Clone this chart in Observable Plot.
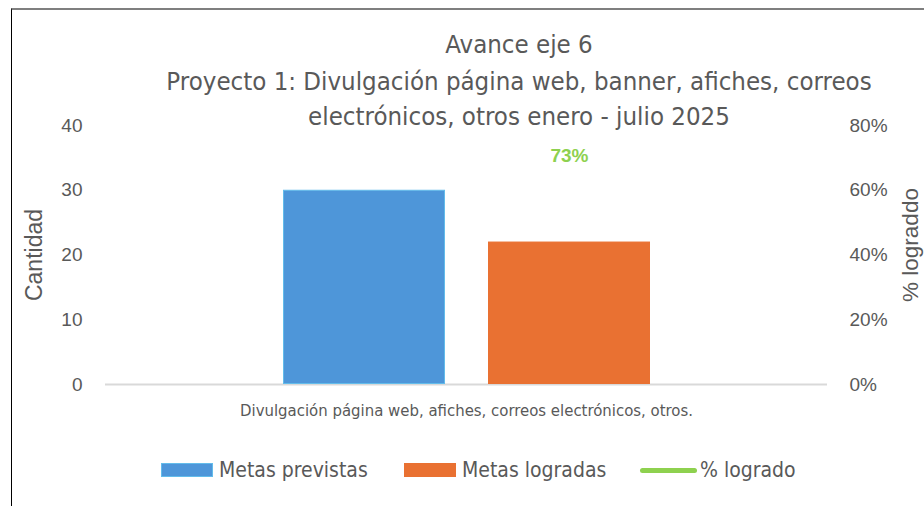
<!DOCTYPE html>
<html>
<head>
<meta charset="utf-8">
<script src="https://cdn.jsdelivr.net/npm/d3@7"></script>
<script src="https://cdn.jsdelivr.net/npm/@observablehq/plot@0.6"></script>
<style>
  body { margin: 0; background: #fff; }
  #wrap { position: relative; width: 924px; height: 506px; overflow: hidden; font-family: "Liberation Sans Narrow", "DejaVu Sans Condensed", "Liberation Sans", sans-serif; color: #595959; }
  #border { position: absolute; left: 11px; top: 8px; right: -5px; bottom: -5px; border-top: 2px solid #7f7f7f; border-left: 1px solid #000; }
  .tl { position: absolute; white-space: nowrap; transform: translate(-50%, -50%); font-size: 25.6px; }
  .lg { position: absolute; top: 470px; transform: translateY(-50%); display: flex; align-items: center; font-size: 21px; white-space: nowrap; }
  .sw { width: 52px; height: 14px; margin-right: 6px; box-sizing: border-box; }
  .ln { width: 57px; height: 5px; border-radius: 3px; margin-right: 3px; }
  svg { position: absolute; left: 0; top: 0; }
</style>
</head>
<body>
<div id="wrap">
  <div id="border"></div>
  <div id="chart"></div>
  <div id="titles"></div>
  <div id="legend"></div>
</div>
<script>
const titulo = ["Avance eje 6",
  "Proyecto 1: Divulgación página web, banner, afiches, correos",
  "electrónicos, otros enero - julio 2025"];
const categoria = ["Divulgación página web, afiches, correos electrónicos, otros."];
const series = ["Metas previstas", "Metas logradas"];
const valores = [30, 22];
const porcentaje = [0.73];
const serieLinea = "% logrado";
const ticksIzq = [0, 10, 20, 30, 40];
const ticksDer = ["0%", "20%", "40%", "60%", "80%"];
const colores = ["#4E96D9", "#E97132"];
const bordes = ["#63BCEB", "#E97132"];
const verde = "#8ED14F";
const ejeIzq = "Cantidad";
const ejeDer = "% lograddo";

const barras = series.map((s, i) => ({serie: s, valor: valores[i], borde: bordes[i]}));
const pctMax = 0.8, yMax = 40;

const tickFont = "'Liberation Sans', Arial, sans-serif";
const narrow = "'Liberation Sans Narrow', 'DejaVu Sans Condensed', 'Liberation Sans', sans-serif";

const chart = Plot.plot({
  width: 924, height: 506,
  marginTop: 125, marginBottom: 122, marginLeft: 105, marginRight: 97,
  style: {fontFamily: tickFont, color: "#595959", background: "transparent"},
  x: {domain: series, range: [282, 650], paddingInner: 0.21, paddingOuter: 0, axis: null},
  y: {domain: [0, yMax], axis: null},
  color: {domain: series, range: colores},
  marks: [
    Plot.ruleY([0], {stroke: "#d9d9d9", strokeWidth: 2}),
    Plot.barY(barras, {x: "serie", y: "valor", fill: "serie", stroke: "borde", strokeWidth: 1, inset: 0.5}),
    Plot.axisY(ticksIzq, {anchor: "left", tickSize: 0, tickPadding: 23, fontSize: 19, label: null}),
    Plot.axisY(ticksIzq, {anchor: "right", tickSize: 0, tickPadding: 22, fontSize: 19, label: null,
      tickFormat: d => ticksDer[ticksIzq.indexOf(d)]}),
    Plot.text([ejeIzq], {frameAnchor: "left", text: d => d, rotate: -90, textAnchor: "middle", lineAnchor: "middle",
      dx: -71, dy: 0, fontSize: 23, fill: "#595959"}),
    Plot.text([ejeDer], {frameAnchor: "right", text: d => d, rotate: -90, textAnchor: "middle", lineAnchor: "middle",
      dx: 83, dy: -10, fontSize: 22.5, fill: "#595959"}),
    Plot.text(categoria, {frameAnchor: "bottom", text: d => d, lineAnchor: "middle", dy: 26, fontSize: 16.6,
      fontFamily: narrow, fill: "#595959"}),
    Plot.text(porcentaje, {x: () => series[1], y: d => d * yMax / pctMax, text: d => Math.round(d * 100) + "%",
      fill: verde, fontWeight: "bold", fontSize: 19, lineAnchor: "middle", dy: 8})
  ]
});
document.getElementById("chart").appendChild(chart);

const tY = [44, 81, 116];
const tEl = document.getElementById("titles");
titulo.forEach((t, i) => {
  const d = document.createElement("div");
  d.className = "tl";
  d.style.left = "519px";
  d.style.top = tY[i] + "px";
  d.textContent = t;
  tEl.appendChild(d);
});

const lEl = document.getElementById("legend");
const items = [
  {label: series[0], left: 161, html: `<div class="sw" style="background:${colores[0]};border:1px solid ${bordes[0]}"></div>`},
  {label: series[1], left: 404, html: `<div class="sw" style="background:${colores[1]}"></div>`},
  {label: serieLinea, left: 640, html: `<div class="ln" style="background:${verde}"></div>`}
];
items.forEach(it => {
  const d = document.createElement("div");
  d.className = "lg";
  d.style.left = it.left + "px";
  d.innerHTML = it.html + `<span>${it.label}</span>`;
  lEl.appendChild(d);
});
</script>
</body>
</html>
